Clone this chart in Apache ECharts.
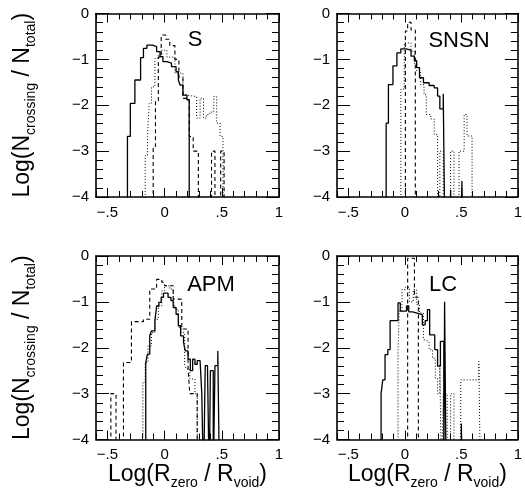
<!DOCTYPE html>
<html>
<head>
<meta charset="utf-8">
<script src="https://cdn.jsdelivr.net/npm/echarts@6.0.0/dist/echarts.min.js"></script>
<style>
html, body { margin: 0; padding: 0; background: #fff; }
#chart { width: 525px; height: 493px; }
</style>
</head>
<body>
<div id="chart"></div>
<script>
var panelNames = ['S', 'SNSN', 'APM', 'LC'];
var xTicks = [-0.5, 0, 0.5, 1];

// histogram steps: [left bin edge, log value], -5 = empty bin
var sSolid = [[-0.325,-2.68],[-0.3,-1.96],[-0.26,-1.45],[-0.21,-0.96],[-0.185,-0.76],[-0.155,-0.69],[-0.105,-0.72],[-0.07,-0.83],[-0.04,-0.94],[-0.015,-1.05],[0.02,-1.08],[0.06,-1.16],[0.1,-1.27],[0.12,-1.45],[0.135,-1.56],[0.16,-1.78],[0.195,-1.88],[0.215,-5]];
var sDashed = [[-0.1,-2.9],[-0.08,-1.9],[-0.055,-0.95],[-0.03,-0.47],[0.01,-0.56],[0.045,-0.7],[0.09,-1.0],[0.125,-1.4],[0.16,-1.85],[0.215,-2.68],[0.25,-3.0],[0.295,-5],[0.41,-3.0],[0.44,-5],[0.49,-3.0],[0.52,-5]];
var sDotted = [[-0.17,-3.1],[-0.15,-2.68],[-0.135,-1.96],[-0.115,-1.6],[-0.085,-0.98],[-0.055,-0.9],[-0.025,-0.8],[0.02,-0.95],[0.09,-1.3],[0.16,-1.78],[0.19,-1.81],[0.28,-2.28],[0.31,-1.85],[0.34,-2.28],[0.365,-2.2],[0.395,-2.15],[0.43,-1.81],[0.455,-2.39],[0.485,-2.68],[0.51,-5]];

var snsnSolid = [[-0.165,-2.39],[-0.145,-1.55],[-0.105,-1.14],[-0.07,-0.86],[-0.035,-0.77],[0.01,-0.8],[0.055,-0.93],[0.085,-1.03],[0.105,-1.18],[0.13,-1.4],[0.165,-1.51],[0.215,-1.57],[0.26,-1.62],[0.29,-1.8],[0.31,-2.08],[0.34,-1.75],[0.355,-5],[0.405,-3.85],[0.415,-5],[0.505,-3.65],[0.515,-5]];
var snsnDashed = [[0.005,-0.38],[0.025,-0.19],[0.055,-0.36],[0.093,-5]];
var snsnDotted = [[-0.035,-1.65],[-0.005,-0.64],[0.055,-0.82],[0.085,-1.09],[0.105,-1.25],[0.14,-1.55],[0.17,-1.77],[0.19,-2.2],[0.23,-2.3],[0.26,-2.64],[0.29,-5],[0.31,-3.0],[0.34,-5],[0.405,-3.0],[0.435,-5],[0.48,-3.0],[0.525,-2.2],[0.55,-2.67],[0.595,-5]];

var apmSolid = [[-0.165,-2.32],[-0.15,-2.14],[-0.13,-1.74],[-0.115,-1.63],[-0.085,-1.41],[-0.07,-1.09],[-0.05,-1.01],[-0.03,-0.9],[-0.01,-0.81],[0.03,-0.9],[0.055,-0.97],[0.075,-1.12],[0.1,-1.27],[0.12,-1.52],[0.14,-1.74],[0.165,-1.88],[0.18,-2.07],[0.205,-2.25],[0.225,-2.5],[0.245,-2.25],[0.265,-2.36],[0.285,-2.28],[0.31,-2.32],[0.325,-3.0],[0.34,-5],[0.355,-2.39],[0.375,-2.46],[0.39,-5],[0.4,-2.5],[0.425,-5],[0.44,-2.39],[0.465,-2.07],[0.48,-5]];
var apmDashed = [[-0.47,-3.0],[-0.425,-5],[-0.36,-2.32],[-0.29,-1.43],[-0.185,-1.38],[-0.13,-0.72],[-0.07,-0.51],[-0.025,-0.57],[0.0,-0.65],[0.075,-0.94],[0.15,-1.59],[0.205,-2.46],[0.22,-3.0],[0.285,-5]];
var apmDotted = [[-0.19,-2.75],[-0.17,-2.32],[-0.145,-1.96],[-0.115,-1.67],[-0.085,-1.38],[-0.055,-1.09],[-0.025,-0.76],[0.0,-0.65],[0.045,-0.72],[0.075,-0.94],[0.09,-1.16],[0.12,-1.56],[0.145,-1.67],[0.175,-2.39],[0.19,-2.46],[0.22,-2.68],[0.265,-3.0],[0.285,-5]];

var lcSolid = [[-0.21,-3.0],[-0.195,-2.7],[-0.175,-2.15],[-0.15,-2.04],[-0.13,-1.41],[-0.06,-1.02],[-0.04,-1.2],[0.015,-1.09],[0.035,-1.22],[0.07,-1.26],[0.13,-1.28],[0.155,-1.5],[0.18,-1.41],[0.2,-1.17],[0.22,-1.72],[0.265,-2.04],[0.29,-2.4],[0.315,-1.86],[0.345,-5],[0.352,-1.0],[0.366,-5],[0.5,-3.65],[0.51,-5]];
var lcDashed = [[0.025,-0.05],[0.085,-0.9],[0.12,-5]];
var lcDotted = [[-0.06,-2.08],[-0.05,-1.2],[-0.025,-0.73],[0.005,-0.68],[0.04,-1.0],[0.075,-0.73],[0.105,-1.06],[0.13,-1.24],[0.165,-1.82],[0.18,-1.86],[0.215,-2.04],[0.245,-2.23],[0.27,-2.66],[0.29,-3.0],[0.31,-2.37],[0.325,-5],[0.34,-3.0],[0.375,-5],[0.405,-3.0],[0.435,-5],[0.495,-2.7],[0.655,-2.3],[0.67,-5]];

var panelCurves = [
    [sSolid, sDashed, sDotted],
    [snsnSolid, snsnDashed, snsnDotted],
    [apmSolid, apmDashed, apmDotted],
    [lcSolid, lcDashed, lcDotted]
];

var font = 'Liberation Sans';
var frames = [
    {left: 96, top: 13.5, width: 183, height: 183.5},
    {left: 337, top: 13.5, width: 182, height: 183.5},
    {left: 96, top: 256, width: 183, height: 183.5},
    {left: 337, top: 256, width: 182, height: 183.5}
];
var labelPos = [[195, 40], [459, 41], [211, 285], [443, 285]];
var lineStyles = [
    {color: '#000', width: 1.3, type: 'solid'},
    {color: '#000', width: 1.1, type: [4, 3]},
    {color: '#000', width: 1, type: [1, 2]}
];

function xFmt(v) {
    if (v === 0) return '0';
    if (v === 1) return '1';
    var s = String(Math.abs(v)).replace(/^0/, '');
    return v < 0 ? '\u2212' + s : s;
}
function yFmt(v) {
    return v === 0 ? '0' : '\u2212' + Math.abs(v);
}

var xTitle = '{m|Log(R}{s|zero}{m| / R}{s|void}{m|)}';
var yTitle = '{m|Log(N}{s|crossing}{m| / N}{s|total}{m|)}';
var titleRich = {
    m: {fontSize: 23, fontFamily: font, color: '#000', lineHeight: 30},
    s: {fontSize: 14, fontFamily: font, color: '#000', lineHeight: 10, verticalAlign: 'bottom'}
};

var option = {animation: false, grid: [], xAxis: [], yAxis: [], series: [], graphic: []};

frames.forEach(function (f, i) {
    option.grid.push({left: f.left, top: f.top, width: f.width, height: f.height});
    var xBase = option.xAxis.length;
    var yBase = option.yAxis.length;
    var bottomRow = i >= 2, leftCol = i % 2 === 0;

    ['bottom', 'top'].forEach(function (pos) {
        option.xAxis.push({
            type: 'value', gridIndex: i, position: pos, min: -0.6, max: 1, interval: 0.1,
            axisLine: {show: true, onZero: false, lineStyle: {color: '#000', width: 1.6}},
            axisTick: {show: true, inside: true, length: 6, lineStyle: {color: '#000', width: 1}},
            axisLabel: {show: false},
            splitLine: {show: false}
        });
        var major = {
            type: 'value', gridIndex: i, position: pos, min: -0.6, max: 1,
            axisLine: {show: false, onZero: false},
            axisTick: {show: true, inside: true, length: 9, customValues: xTicks, lineStyle: {color: '#000', width: 1}},
            axisLabel: {show: pos === 'bottom', customValues: xTicks, formatter: xFmt, margin: 8,
                fontSize: 15, fontFamily: font, color: '#000'},
            splitLine: {show: false}
        };
        if (pos === 'bottom' && bottomRow) {
            major.name = xTitle;
            major.nameLocation = 'middle';
            major.nameGap = 14;
            major.nameTextStyle = {rich: titleRich};
        }
        option.xAxis.push(major);
    });

    ['left', 'right'].forEach(function (pos) {
        var ax = {
            type: 'value', gridIndex: i, position: pos, min: -4, max: 0, interval: 1,
            axisLine: {show: true, onZero: false, lineStyle: {color: '#000', width: 1.6}},
            axisTick: {show: true, inside: true, length: 13, lineStyle: {color: '#000', width: 1}},
            minorTick: {show: true, splitNumber: 5, length: 7, lineStyle: {color: '#000', width: 1}},
            axisLabel: {show: pos === 'left', formatter: yFmt, margin: 7,
                fontSize: 15, fontFamily: font, color: '#000'},
            splitLine: {show: false},
            minorSplitLine: {show: false}
        };
        if (pos === 'left' && leftCol) {
            ax.name = yTitle;
            ax.nameLocation = 'middle';
            ax.nameRotate = 90;
            ax.nameGap = 58;
            ax.nameTextStyle = {rich: titleRich};
        }
        option.yAxis.push(ax);
    });

    panelCurves[i].forEach(function (steps, k) {
        var data = [[steps[0][0], -5]].concat(steps);
        option.series.push({
            type: 'line', xAxisIndex: xBase, yAxisIndex: yBase,
            data: data, step: 'end', symbol: 'none', showSymbol: false,
            clip: true, silent: true, lineStyle: lineStyles[k]
        });
    });

    option.graphic.push({
        type: 'text', x: labelPos[i][0], y: labelPos[i][1],
        style: {text: panelNames[i], fontSize: 22, fontFamily: font, fill: '#000',
            align: 'center', verticalAlign: 'middle', textAlign: 'center', textVerticalAlign: 'middle'}
    });
});

var myChart = echarts.init(document.getElementById('chart'));
myChart.setOption(option);
</script>
</body>
</html>
